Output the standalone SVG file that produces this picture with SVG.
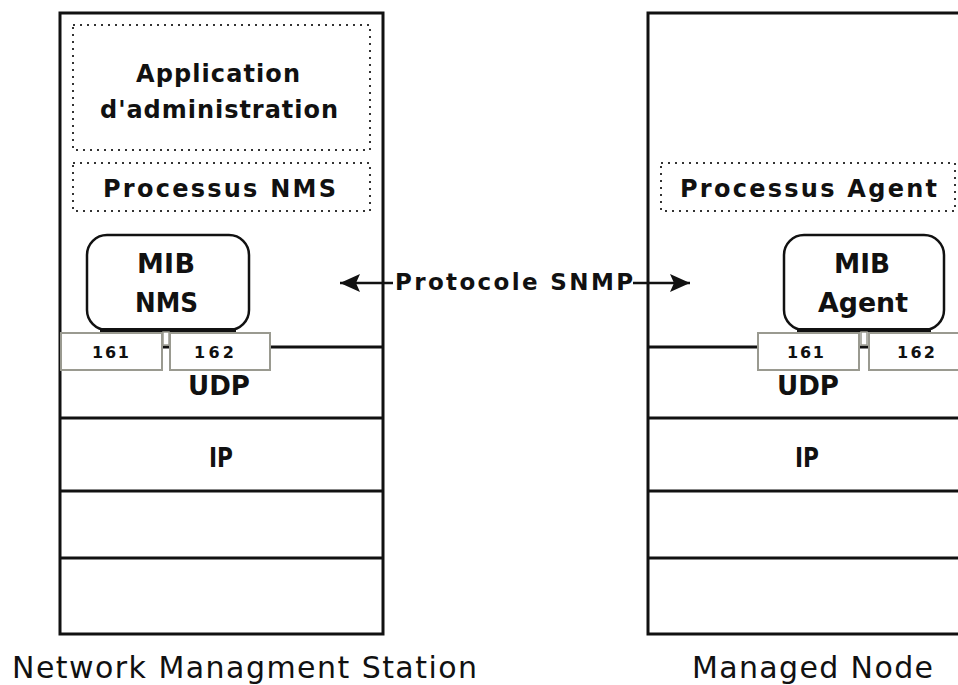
<svg xmlns="http://www.w3.org/2000/svg" width="958" height="685" viewBox="0 0 958 685">
<style>
.frame{fill:#fff;stroke:#111;stroke-width:3}
.layer{stroke:#111;stroke-width:3;fill:none}
.dotted{fill:none;stroke:#333;stroke-width:2;stroke-dasharray:2 5}
.mib{fill:#fff;stroke:#111;stroke-width:2.5}
.port{fill:#fff;stroke:#9a9a90;stroke-width:2}
.t{font-family:"DejaVu Sans","Liberation Sans",sans-serif;font-weight:bold;font-size:24px;fill:#111}
.tb{font-family:"DejaVu Sans","Liberation Sans",sans-serif;font-weight:bold;font-size:27px;fill:#111}
.tp{font-family:"DejaVu Sans","Liberation Sans",sans-serif;font-weight:bold;font-size:23px;fill:#111}
.ts{font-family:"DejaVu Sans","Liberation Sans",sans-serif;font-weight:bold;font-size:16px;fill:#111}
.tl{font-family:"DejaVu Sans","Liberation Sans",sans-serif;font-size:30px;fill:#111}
.conn{stroke:#111;stroke-width:2.5;fill:none}
</style>
<defs>
<marker id="arr" markerWidth="22" markerHeight="22" refX="20" refY="11" orient="auto" markerUnits="userSpaceOnUse">
<path d="M0,2 L20,11 L0,20 L4,11 Z" fill="#111"/>
</marker>
</defs>
<rect width="958" height="685" fill="#fff"/>

<g id="nms-station">
<rect class="frame" x="60" y="13" width="323" height="621"/>
<line class="layer" x1="60" y1="347" x2="383" y2="347"/>
<line class="layer" x1="60" y1="418" x2="383" y2="418"/>
<line class="layer" x1="60" y1="491" x2="383" y2="491"/>
<line class="layer" x1="60" y1="558" x2="383" y2="558"/>
<text class="tl" x="12" y="678" textLength="465" lengthAdjust="spacing">Network Managment Station</text>
</g>

<g id="nms-app">
<rect class="dotted" x="73" y="25" width="297" height="125"/>
<text class="t" x="136" y="82" textLength="164" lengthAdjust="spacing">Application</text>
<text class="t" x="100" y="118" textLength="238" lengthAdjust="spacing">d'administration</text>
</g>

<g id="nms-process">
<rect class="dotted" x="73" y="163" width="297" height="48"/>
<text class="t" x="103" y="197" textLength="233" lengthAdjust="spacing">Processus NMS</text>
</g>

<g id="nms-mib">
<rect class="mib" x="87" y="235" width="162" height="95" rx="20"/>
<line x1="100" y1="330" x2="236" y2="330" stroke="#111" stroke-width="4"/>
<text class="tb" x="137" y="273" textLength="58" lengthAdjust="spacing">MIB</text>
<text class="tb" x="135" y="312" textLength="63" lengthAdjust="spacingAndGlyphs">NMS</text>
</g>

<g id="nms-ports">
<rect x="163" y="332" width="6" height="13" fill="#fff" stroke="#9a9a90" stroke-width="1.5"/>
<rect class="port" x="61" y="333" width="101" height="37"/>
<rect class="port" x="170" y="333" width="100" height="37"/>
<text class="ts" x="92" y="358" textLength="37" lengthAdjust="spacing">161</text>
<text class="ts" x="194" y="358" textLength="40" lengthAdjust="spacing">162</text>
</g>

<g id="nms-udp">
<text class="tb" x="188" y="395" textLength="62" lengthAdjust="spacingAndGlyphs">UDP</text>
</g>
<g id="nms-ip">
<text class="tb" x="209" y="467" textLength="24" lengthAdjust="spacingAndGlyphs">IP</text>
</g>

<g id="managed-node">
<rect class="frame" x="648" y="13" width="330" height="621"/>
<line class="layer" x1="648" y1="347" x2="958" y2="347"/>
<line class="layer" x1="648" y1="418" x2="958" y2="418"/>
<line class="layer" x1="648" y1="491" x2="958" y2="491"/>
<line class="layer" x1="648" y1="558" x2="958" y2="558"/>
<text class="tl" x="692" y="678" textLength="241" lengthAdjust="spacing">Managed Node</text>
</g>

<g id="agent-process">
<rect class="dotted" x="661" y="163" width="294" height="48"/>
<text class="t" x="680" y="197" textLength="257" lengthAdjust="spacing">Processus Agent</text>
</g>

<g id="agent-mib">
<rect class="mib" x="784" y="235" width="160" height="95" rx="20"/>
<line x1="797" y1="330" x2="931" y2="330" stroke="#111" stroke-width="4"/>
<text class="tb" x="834" y="273" textLength="56" lengthAdjust="spacingAndGlyphs">MIB</text>
<text class="tb" x="818" y="312" textLength="90" lengthAdjust="spacingAndGlyphs">Agent</text>
</g>

<g id="agent-ports">
<rect x="861" y="332" width="6" height="13" fill="#fff" stroke="#9a9a90" stroke-width="1.5"/>
<rect class="port" x="758" y="333" width="101" height="37"/>
<rect class="port" x="869" y="333" width="100" height="37"/>
<text class="ts" x="787" y="358" textLength="37" lengthAdjust="spacing">161</text>
<text class="ts" x="897" y="358" textLength="38" lengthAdjust="spacing">162</text>
</g>

<g id="agent-udp">
<text class="tb" x="777" y="395" textLength="62" lengthAdjust="spacingAndGlyphs">UDP</text>
</g>
<g id="agent-ip">
<text class="tb" x="795" y="467" textLength="24" lengthAdjust="spacingAndGlyphs">IP</text>
</g>

<g id="connectors">
<line class="conn" x1="393" y1="283" x2="340" y2="283" marker-end="url(#arr)"/>
<line class="conn" x1="633" y1="283" x2="690" y2="283" marker-end="url(#arr)"/>
<text class="tp" x="395" y="290" textLength="238" lengthAdjust="spacing">Protocole SNMP</text>
</g>
</svg>
